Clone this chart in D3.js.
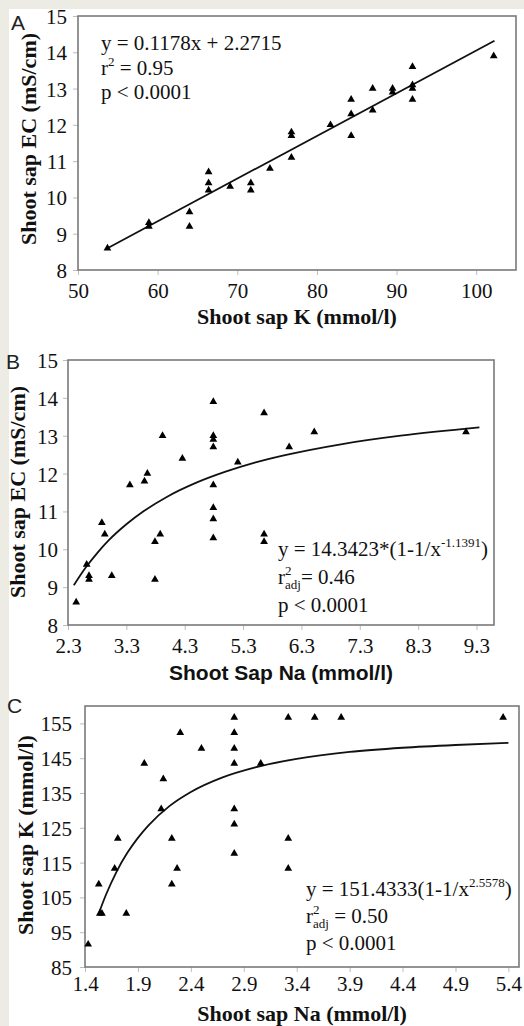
<!DOCTYPE html>
<html>
<head>
<meta charset="utf-8">
<script src="https://cdn.jsdelivr.net/npm/d3@7"></script>
<style>
  html, body { margin: 0; padding: 0; background: #ecebe4; }
  svg { display: block; }
</style>
</head>
<body>
<svg id="chart" width="524" height="1026"></svg>
<script>
// ---------- Panel A data ----------
const aX = [53.7, 58.9, 58.9, 64.0, 64.0, 66.4, 66.4, 66.4, 69.1, 71.7, 71.7, 74.1, 76.8, 76.8, 76.8, 81.7, 84.3, 84.3, 84.3, 87.0, 87.0, 89.5, 89.5, 92.0, 92.0, 92.0, 92.0, 102.2];
const aY = [8.6, 9.3, 9.2, 9.6, 9.2, 10.7, 10.4, 10.2, 10.3, 10.4, 10.2, 10.8, 11.8, 11.7, 11.1, 12.0, 12.7, 12.3, 11.7, 13.0, 12.4, 13.0, 12.9, 13.6, 13.1, 13.0, 12.7, 13.9];
const aLineX = [53.7, 102.3];
const aLineY = [8.6, 14.32];
const aXTicks = [50, 60, 70, 80, 90, 100];
const aYTicks = [8, 9, 10, 11, 12, 13, 14, 15];

// ---------- Panel B data ----------
const bX = [2.44, 2.62, 2.66, 2.66, 2.88, 2.93, 3.05, 3.36, 3.61, 3.66, 3.79, 3.79, 3.88, 3.92, 4.26, 4.79, 4.79, 4.79, 4.79, 4.79, 4.79, 4.79, 4.79, 5.21, 5.66, 5.66, 5.66, 6.09, 6.52, 9.12];
const bY = [8.6, 9.6, 9.3, 9.2, 10.7, 10.4, 9.3, 11.7, 11.8, 12.0, 10.2, 9.2, 10.4, 13.0, 12.4, 13.9, 13.0, 12.9, 12.7, 11.7, 11.1, 10.8, 10.3, 12.3, 13.6, 10.4, 10.2, 12.7, 13.1, 13.1];
const bCurveX = [2.4, 2.6, 2.8, 3.0, 3.3, 3.6, 4.0, 4.5, 5.0, 5.5, 6.0, 7.0, 8.0, 9.35];
const bCurveY = [9.05, 9.51, 9.90, 10.24, 10.66, 11.01, 11.39, 11.76, 12.05, 12.29, 12.48, 12.78, 13.00, 13.22];
const bXTicks = [2.3, 3.3, 4.3, 5.3, 6.3, 7.3, 8.3, 9.3];
const bYTicks = [8, 9, 10, 11, 12, 13, 14, 15];

// ---------- Panel C data ----------
const cX = [1.43, 1.53, 1.54, 1.56, 1.68, 1.71, 1.79, 1.96, 2.12, 2.14, 2.22, 2.22, 2.27, 2.30, 2.50, 2.81, 2.81, 2.81, 2.81, 2.81, 2.81, 2.81, 3.06, 3.32, 3.32, 3.32, 3.57, 3.82, 5.35];
const cY = [91.5, 108.8, 100.4, 100.4, 113.3, 121.9, 100.4, 143.5, 130.4, 139.0, 121.9, 108.8, 113.3, 152.3, 147.8, 156.7, 152.3, 147.8, 143.5, 130.4, 126.0, 117.6, 143.5, 156.7, 121.9, 113.3, 156.7, 156.7, 156.7];
const cCurveX = [1.53, 1.6, 1.7, 1.8, 1.9, 2.0, 2.2, 2.4, 2.7, 3.0, 3.4, 3.9, 4.4, 4.9, 5.4];
const cCurveY = [100.4, 105.9, 112.5, 117.8, 122.1, 125.7, 131.3, 135.3, 139.5, 142.3, 144.8, 146.8, 148.0, 148.8, 149.4];
const cXTicks = [1.4, 1.9, 2.4, 2.9, 3.4, 3.9, 4.4, 4.9, 5.4];
const cYTicks = [85, 95, 105, 115, 125, 135, 145, 155];

const SERIF = "'Liberation Serif', 'Times New Roman', serif";
const SANS = "'Liberation Sans', Arial, sans-serif";

const svg = d3.select("#chart");
svg.append("rect").attr("x", 9).attr("y", 9).attr("width", 515).attr("height", 1017).attr("fill", "#ffffff");

const tri = d3.symbol().type(d3.symbolTriangle).size(26);

function panel(cfg) {
  const g = svg.append("g");
  const x = d3.scaleLinear().domain(cfg.xDomain).range([cfg.left, cfg.right]);
  const y = d3.scaleLinear().domain(cfg.yDomain).range([cfg.bottom, cfg.top]);

  // y axis
  const ya = g.append("g").attr("transform", `translate(${cfg.left},0)`)
    .call(d3.axisLeft(y).tickValues(cfg.yTicks).tickSize(5).tickPadding(cfg.yPad).tickFormat(d3.format("d")));
  ya.select(".domain").remove();
  ya.selectAll("line").attr("stroke", "#bdbdbd");
  ya.selectAll("text").attr("font-family", SERIF).attr("font-size", 21).attr("fill", "#111").attr("dy", "0.36em");

  // x axis
  const xa = g.append("g").attr("transform", `translate(0,${cfg.bottom})`)
    .call(d3.axisBottom(x).tickValues(cfg.xTicks).tickSize(5).tickPadding(cfg.xPad).tickFormat(cfg.xFmt));
  xa.select(".domain").remove();
  xa.selectAll("line").attr("stroke", "#bdbdbd");
  xa.selectAll("text").attr("font-family", SERIF).attr("font-size", 21).attr("fill", "#111");

  // frame
  g.append("rect").attr("x", cfg.left).attr("y", cfg.top)
    .attr("width", cfg.right - cfg.left).attr("height", cfg.bottom - cfg.top)
    .attr("fill", "none").attr("stroke", "#7a7a7a").attr("stroke-width", 1.6);

  // fit line / curve
  const pts = cfg.lineX.map((v, i) => [v, cfg.lineY[i]]);
  g.append("path").datum(pts)
    .attr("d", d3.line().x(d => x(d[0])).y(d => y(d[1])).curve(d3.curveMonotoneX))
    .attr("fill", "none").attr("stroke", "#111").attr("stroke-width", 1.8);

  // points
  g.selectAll("path.pt").data(cfg.px.map((v, i) => [v, cfg.py[i]])).enter()
    .append("path").attr("class", "pt")
    .attr("d", tri)
    .attr("transform", d => `translate(${x(d[0])},${y(d[1])})`)
    .attr("fill", "#000");

  // panel letter
  g.append("text").attr("x", cfg.letterX).attr("y", cfg.letterY)
    .attr("font-family", SANS).attr("font-size", 21).attr("fill", "#222").text(cfg.letter);

  // x title
  g.append("text").attr("x", cfg.xTitleX).attr("y", cfg.xTitleY).attr("text-anchor", "middle")
    .attr("font-family", cfg.xTitleFont).attr("font-weight", "bold").attr("font-size", cfg.xTitleSize)
    .attr("fill", "#111").text(cfg.xTitle);

  // y title
  g.append("text").attr("transform", `translate(${cfg.yTitleX},${cfg.yTitleY}) rotate(-90)`)
    .attr("text-anchor", "middle")
    .attr("font-family", SERIF).attr("font-weight", "bold").attr("font-size", 22)
    .attr("fill", "#111").text(cfg.yTitle);

  return g;
}

function annot(g, x0, y0, lh, eqParts, rParts, pText) {
  // equation line
  const t1 = g.append("text").attr("x", x0).attr("y", y0)
    .attr("font-family", SERIF).attr("font-size", 21).attr("fill", "#111");
  eqParts.forEach(p => {
    const s = t1.append("tspan").text(p.t);
    if (p.sup) s.attr("font-size", 13).attr("dy", -9);
    if (p.back) s.attr("dy", 9);
  });
  // r line
  const t2 = g.append("text").attr("x", x0).attr("y", y0 + lh)
    .attr("font-family", SERIF).attr("font-size", 21).attr("fill", "#111");
  t2.append("tspan").text("r");
  t2.append("tspan").text("2").attr("font-size", 13).attr("dy", -9);
  if (rParts.adj) {
    t2.append("tspan").text("adj").attr("font-size", 13).attr("dx", -6.5).attr("dy", 14);
    t2.append("tspan").text(rParts.rest).attr("dy", -5);
  } else {
    t2.append("tspan").text(rParts.rest).attr("dy", 9);
  }
  // p line
  g.append("text").attr("x", x0).attr("y", y0 + 2 * lh)
    .attr("font-family", SERIF).attr("font-size", 21).attr("fill", "#111").text(pText);
}

// ---------- Panel A ----------
const gA = panel({
  left: 78, right: 516, top: 16, bottom: 270,
  xDomain: [50, 105], yDomain: [8, 15],
  xTicks: aXTicks, yTicks: aYTicks, xFmt: d3.format("d"), yPad: 6, xPad: 8,
  lineX: aLineX, lineY: aLineY, px: aX, py: aY,
  letter: "A", letterX: 11, letterY: 30,
  xTitle: "Shoot sap K (mmol/l)", xTitleX: 297, xTitleY: 324, xTitleFont: SERIF, xTitleSize: 22,
  yTitle: "Shoot sap EC (mS/cm)", yTitleX: 36, yTitleY: 139
});
annot(gA, 101, 50, 24.5,
  [{t: "y = 0.1178x + 2.2715"}],
  {adj: false, rest: " = 0.95"}, "p < 0.0001");

// ---------- Panel B ----------
const gB = panel({
  left: 68, right: 494, top: 360, bottom: 625,
  xDomain: [2.3, 9.6], yDomain: [8, 15],
  xTicks: bXTicks, yTicks: bYTicks, xFmt: d3.format(".1f"), yPad: 5, xPad: 8,
  lineX: bCurveX, lineY: bCurveY, px: bX, py: bY,
  letter: "B", letterX: 6, letterY: 369,
  xTitle: "Shoot Sap Na (mmol/l)", xTitleX: 281, xTitleY: 680, xTitleFont: SANS, xTitleSize: 21,
  yTitle: "Shoot sap EC (mS/cm)", yTitleX: 25, yTitleY: 492
});
annot(gB, 278, 556, 28,
  [{t: "y = 14.3423*(1-1/x"}, {t: "-1.1391", sup: true}, {t: ")", back: true}],
  {adj: true, rest: "= 0.46"}, "p < 0.0001");

// ---------- Panel C ----------
const gC = panel({
  left: 85, right: 519, top: 706, bottom: 967,
  xDomain: [1.4, 5.5], yDomain: [85, 160],
  xTicks: cXTicks, yTicks: cYTicks, xFmt: d3.format(".1f"), yPad: 8, xPad: 4,
  lineX: cCurveX, lineY: cCurveY, px: cX, py: cY,
  letter: "C", letterX: 7, letterY: 713,
  xTitle: "Shoot sap Na (mmol/l)", xTitleX: 302, xTitleY: 1021, xTitleFont: SERIF, xTitleSize: 22,
  yTitle: "Shoot sap K (mmol/l)", yTitleX: 33, yTitleY: 835
});
annot(gC, 306, 896, 27,
  [{t: "y = 151.4333(1-1/x"}, {t: "2.5578", sup: true}, {t: ")", back: true}],
  {adj: true, rest: " = 0.50"}, "p < 0.0001");
</script>
</body>
</html>
